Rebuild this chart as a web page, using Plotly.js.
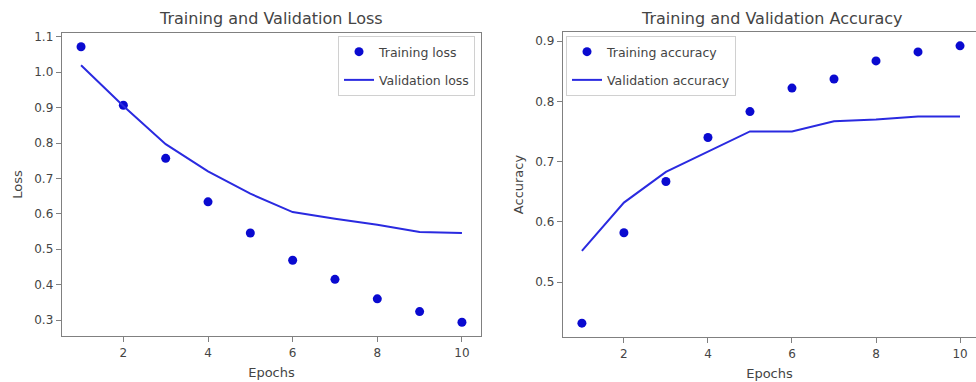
<!DOCTYPE html>
<html>
<head>
<meta charset="utf-8">
<script src="https://cdn.plot.ly/plotly-3.0.1.min.js"></script>
<style>html,body{margin:0;padding:0;background:#fff;}#chart{width:976px;height:382px;}</style>
</head>
<body>
<div id="chart"></div>
<script>
const epochs = [1, 2, 3, 4, 5, 6, 7, 8, 9, 10];
const trainLoss = [1.072, 0.907, 0.757, 0.634, 0.546, 0.469, 0.415, 0.360, 0.324, 0.294];
const valLoss = [1.020, 0.905, 0.797, 0.720, 0.657, 0.605, 0.586, 0.569, 0.549, 0.546];
const trainAcc = [0.432, 0.582, 0.667, 0.740, 0.783, 0.822, 0.837, 0.867, 0.882, 0.892];
const valAcc = [0.552, 0.632, 0.683, 0.717, 0.750, 0.750, 0.767, 0.770, 0.775, 0.775];
const xTicks = [2, 4, 6, 8, 10];
const lossTicks = [0.3, 0.4, 0.5, 0.6, 0.7, 0.8, 0.9, 1.0, 1.1];
const accTicks = [0.5, 0.6, 0.7, 0.8, 0.9];

const dotColor = '#0a0ad0';
const lineColor = '#2a2ae0';
const FONT = 'DejaVu Sans, sans-serif';
const textColor = '#444';
const spine = '#808080';

const W = 976, H = 382;
const px = v => v / W;
const py = v => 1 - v / H;

const traces = [
  {x: epochs, y: trainLoss, mode: 'markers', name: 'Training loss', marker: {color: dotColor, size: 9},
   xaxis: 'x', yaxis: 'y', legend: 'legend', legendgroup: 'a'},
  {x: epochs, y: valLoss, mode: 'lines', name: 'Validation loss', line: {color: lineColor, width: 2},
   xaxis: 'x', yaxis: 'y', legend: 'legend', legendgroup: 'b'},
  {x: epochs, y: trainAcc, mode: 'markers', name: 'Training accuracy', marker: {color: dotColor, size: 9},
   xaxis: 'x2', yaxis: 'y2', legend: 'legend2', legendgroup: 'c'},
  {x: epochs, y: valAcc, mode: 'lines', name: 'Validation accuracy', line: {color: lineColor, width: 2},
   xaxis: 'x2', yaxis: 'y2', legend: 'legend2', legendgroup: 'd'}
];

function axisBase() {
  return {
    showgrid: false, zeroline: false, showline: true, mirror: true,
    linecolor: spine, linewidth: 1.3,
    ticks: 'outside', ticklen: 5, tickcolor: spine, tickwidth: 1,
    tickfont: {family: FONT, size: 12, color: textColor},
    automargin: false, fixedrange: true
  };
}

const legendBase = {
  font: {family: FONT, size: 12.5, color: textColor},
  bgcolor: 'rgba(255,255,255,0.85)', bordercolor: '#d0d0d0', borderwidth: 1,
  traceorder: 'grouped', tracegroupgap: 9, itemwidth: 30
};

const layout = {
  width: W, height: H,
  margin: {l: 0, r: 0, t: 0, b: 0},
  paper_bgcolor: '#fff', plot_bgcolor: '#fff',
  showlegend: true,
  xaxis: Object.assign(axisBase(), {
    domain: [px(62), px(481)], range: [0.55, 10.45], tickvals: xTicks, anchor: 'y',
    title: {text: 'Epochs', font: {family: FONT, size: 13, color: textColor}, standoff: 9}
  }),
  yaxis: Object.assign(axisBase(), {
    domain: [py(336), py(33)], range: [0.255, 1.111], tickvals: lossTicks, tickformat: '.1f', anchor: 'x',
    title: {text: 'Loss', font: {family: FONT, size: 13, color: textColor}, standoff: 8}
  }),
  xaxis2: Object.assign(axisBase(), {
    domain: [px(563), 1], range: [0.55, 10.38], tickvals: xTicks, anchor: 'y2',
    title: {text: 'Epochs', font: {family: FONT, size: 13, color: textColor}, standoff: 9}
  }),
  yaxis2: Object.assign(axisBase(), {
    domain: [py(337), py(32)], range: [0.409, 0.915], tickvals: accTicks, tickformat: '.1f', anchor: 'x2',
    title: {text: 'Accuracy', font: {family: FONT, size: 13, color: textColor}, standoff: 8}
  }),
  legend: Object.assign({}, legendBase, {x: px(475), xanchor: 'right', y: py(36), yanchor: 'top'}),
  legend2: Object.assign({}, legendBase, {x: px(566), xanchor: 'left', y: py(36), yanchor: 'top'}),
  annotations: [
    {text: 'Training and Validation Loss', xref: 'paper', yref: 'paper', x: px(271), y: py(19),
     xanchor: 'center', yanchor: 'middle', showarrow: false, font: {family: FONT, size: 16, color: textColor}},
    {text: 'Training and Validation Accuracy', xref: 'paper', yref: 'paper', x: px(772), y: py(19),
     xanchor: 'center', yanchor: 'middle', showarrow: false, font: {family: FONT, size: 16, color: textColor}}
  ]
};

Plotly.newPlot('chart', traces, layout, {displayModeBar: false, staticPlot: true});
</script>
</body>
</html>
